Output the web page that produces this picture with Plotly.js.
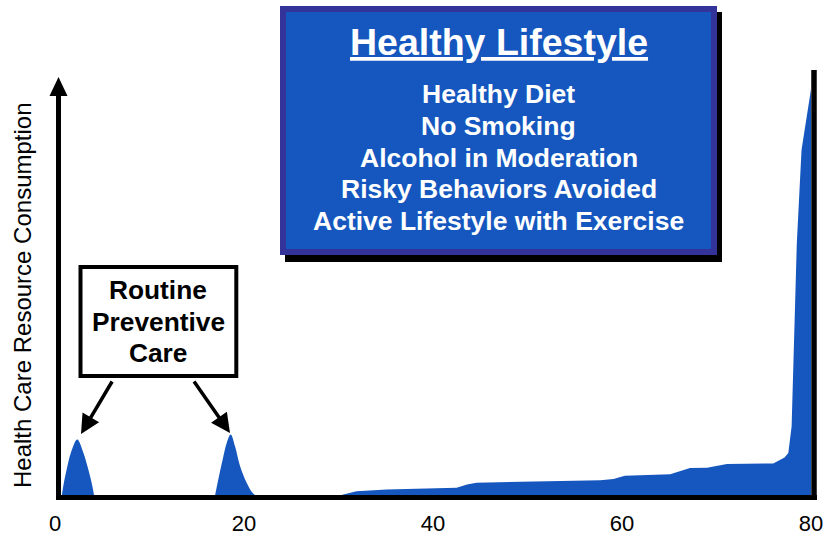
<!DOCTYPE html>
<html>
<head>
<meta charset="utf-8">
<script src="https://cdn.plot.ly/plotly-3.0.1.min.js"></script>
<style>html,body{margin:0;padding:0;background:#fff;}#chart{width:825px;height:536px;}</style>
</head>
<body>
<div id="chart"></div>
<script>
// ---- data ----
const peak1X = [0.7, 0.88, 1.24, 1.69, 2.36, 2.99, 3.52, 3.95, 4.16];
const peak1Y = [0, 2.6, 6.6, 10.6, 13.7, 10.6, 6.6, 2.6, 0];
const peak2X = [16.9, 17.28, 17.74, 18.17, 18.59, 19.05, 19.58, 20.28, 20.9, 21.5];
const peak2Y = [0, 4.2, 8.9, 12.9, 14.9, 12.1, 7.4, 3.4, 1.0, 0];
const tailX = [29.45, 31.9, 35.1, 42.5, 43.6, 44.6, 57.7, 59.1, 60.3, 65.1, 67.2, 69.0, 71.1, 76.0, 77.2, 77.6, 77.95, 78.3, 78.5, 79.0, 80.0, 80.0];
const tailY = [0, 1.4, 1.8, 2.2, 3.0, 3.4, 4.0, 4.3, 5.1, 5.4, 6.9, 7.0, 7.9, 8.0, 9.4, 10.5, 16.9, 48.7, 60.7, 82.9, 97.3, 0];
const xTicks = [0, 20, 40, 60, 80];
const xTickLabels = ['0', '20', '40', '60', '80'];
const yTitle = 'Health Care Resource Consumption';
const lifestyleTitle = 'Healthy Lifestyle';
const lifestyleItems = ['Healthy Diet', 'No Smoking', 'Alcohol in Moderation', 'Risky Behaviors Avoided', 'Active Lifestyle with Exercise'];
const preventiveLines = ['Routine', 'Preventive', 'Care'];

// ---- layout helpers (pixel -> paper) ----
const W = 825, H = 536, ML = 55, MR = 14, MT = 78, MB = 39;
const PW = W - ML - MR, PH = H - MT - MB;
const px = x => (x - ML) / PW;
const py = y => (H - MB - y) / PH;

const FONT = 'Liberation Sans, Arial, Helvetica, sans-serif';
const BLUE = '#1557be';

function area(x, y, shape) {
  return {
    x: x, y: y, type: 'scatter', mode: 'lines', fill: 'tozeroy',
    fillcolor: BLUE, line: {color: BLUE, width: 0, shape: shape, smoothing: 1},
    hoverinfo: 'skip', showlegend: false
  };
}
const traces = [area(peak1X, peak1Y, 'spline'), area(peak2X, peak2Y, 'spline'), area(tailX, tailY, 'linear')];

const shapes = [
  {type: 'line', xref: 'paper', yref: 'paper', x0: px(56), x1: px(817), y0: py(497.5), y1: py(497.5), line: {color: 'black', width: 5}},
  {type: 'line', xref: 'paper', yref: 'paper', x0: px(58.5), x1: px(58.5), y0: py(500), y1: py(93), line: {color: 'black', width: 5}},
  {type: 'path', xref: 'paper', yref: 'paper',
   path: `M ${px(49.5)} ${py(96)} L ${px(67.5)} ${py(96)} L ${px(58.5)} ${py(77)} Z`,
   fillcolor: 'black', line: {color: 'black', width: 0}},
  {type: 'line', xref: 'paper', yref: 'paper', x0: px(814), x1: px(814), y0: py(500), y1: py(70), line: {color: 'black', width: 5.5}},
  {type: 'rect', xref: 'paper', yref: 'paper', x0: px(285), x1: px(722), y0: py(262), y1: py(12), fillcolor: 'black', line: {width: 0}},
  {type: 'rect', xref: 'paper', yref: 'paper', x0: px(283), x1: px(714), y0: py(252), y1: py(9), fillcolor: BLUE, line: {color: '#333399', width: 6}},
  {type: 'rect', xref: 'paper', yref: 'paper', x0: px(80.5), x1: px(236.3), y0: py(376), y1: py(267), fillcolor: 'white', line: {color: 'black', width: 4}}
];

const annotations = [];
annotations.push({
  text: '<b><u>' + lifestyleTitle + '</u></b>', xref: 'paper', yref: 'paper',
  x: px(498.5), y: py(41.5), xanchor: 'center', yanchor: 'middle', showarrow: false,
  font: {family: FONT, size: 37.5, color: 'white'}
});
const itemY = [94.2, 125.9, 157.6, 189.3, 221];
lifestyleItems.forEach((t, i) => annotations.push({
  text: '<b>' + t + '</b>', xref: 'paper', yref: 'paper',
  x: px(498.5), y: py(itemY[i]), xanchor: 'center', yanchor: 'middle', showarrow: false,
  font: {family: FONT, size: 26.5, color: 'white'}
}));
const prevY = [290, 321.7, 353.3];
preventiveLines.forEach((t, i) => annotations.push({
  text: '<b>' + t + '</b>', xref: 'paper', yref: 'paper',
  x: px(158.4), y: py(prevY[i]), xanchor: 'center', yanchor: 'middle', showarrow: false,
  font: {family: FONT, size: 26.3, color: 'black'}
}));
annotations.push({text: '', xref: 'paper', yref: 'paper', x: px(81), y: py(434), ax: 32, ay: -54,
  showarrow: true, arrowhead: 2, arrowsize: 1.1, arrowwidth: 3.5, arrowcolor: 'black', standoff: 0});
annotations.push({text: '', xref: 'paper', yref: 'paper', x: px(230), y: py(433), ax: -37, ay: -53,
  showarrow: true, arrowhead: 2, arrowsize: 1.1, arrowwidth: 3.5, arrowcolor: 'black', standoff: 0});
annotations.push({
  text: yTitle, xref: 'paper', yref: 'paper', x: px(22), y: py(295), textangle: -90,
  xanchor: 'center', yanchor: 'middle', showarrow: false,
  font: {family: FONT, size: 24, color: 'black'}
});

const layout = {
  width: W, height: H,
  margin: {l: ML, r: MR, t: MT, b: MB, pad: 0},
  paper_bgcolor: 'white', plot_bgcolor: 'white',
  showlegend: false,
  font: {family: FONT, color: 'black'},
  xaxis: {range: [0, 80], tickvals: xTicks, ticktext: xTickLabels, showgrid: false, zeroline: false,
          showline: false, ticks: '', ticklabelstandoff: 11,
          tickfont: {family: FONT, size: 22, color: 'black'}, fixedrange: true},
  yaxis: {range: [0, 100], visible: false, showgrid: false, zeroline: false, fixedrange: true},
  shapes: shapes,
  annotations: annotations
};

Plotly.newPlot('chart', traces, layout, {staticPlot: true, displayModeBar: false});
</script>
</body>
</html>
